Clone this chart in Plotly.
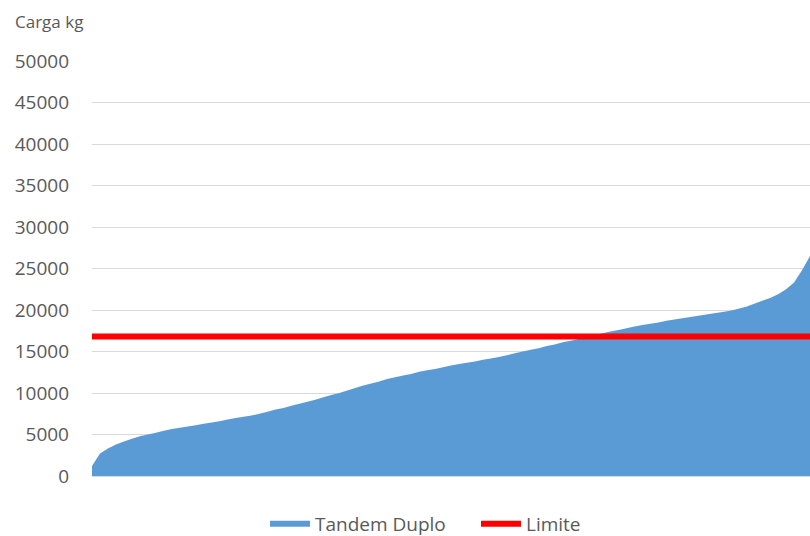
import plotly.graph_objects as go

# Sorted axle loads (kg) - Tandem Duplo
rank = list(range(91))
tandem_duplo = [
    1200, 2700, 3300, 3800, 4150, 4500, 4800, 5000, 5200, 5450,
    5650, 5800, 5950, 6100, 6300, 6450, 6600, 6800, 7000, 7150,
    7300, 7500, 7750, 8000, 8200, 8450, 8700, 8950, 9200, 9500,
    9750, 10000, 10300, 10600, 10900, 11150, 11400, 11700, 11900, 12100,
    12300, 12550, 12750, 12900, 13100, 13300, 13500, 13650, 13800, 14000,
    14150, 14350, 14550, 14800, 15000, 15200, 15400, 15650, 15850, 16100,
    16300, 16500, 16800, 17000, 17200, 17400, 17600, 17800, 18000, 18200,
    18350, 18500, 18700, 18850, 19000, 19150, 19300, 19450, 19600, 19750,
    19900, 20150, 20400, 20750, 21100, 21450, 21900, 22500, 23300, 24800,
    26500,
]
limite_value = 16800
limite = [limite_value] * len(rank)
y_ticks = [0, 5000, 10000, 15000, 20000, 25000, 30000, 35000, 40000, 45000, 50000]

fig = go.Figure()
fig.add_trace(go.Scatter(
    x=rank, y=tandem_duplo, name="Tandem Duplo", mode="none",
    fill="tozeroy", fillcolor="#5B9BD5",
))
fig.add_trace(go.Scatter(
    x=rank, y=limite, name="Limite", mode="lines",
    line=dict(color="#FF0000", width=6),
))

W, H = 810, 536
L, T, B = 92, 61, 60
PW, PH = W - L, H - T - B

font = "Open Sans, Lato, sans-serif"
fig.update_layout(
    width=W, height=H,
    paper_bgcolor="white", plot_bgcolor="white",
    margin=dict(l=L, r=0, t=T, b=B, autoexpand=False),
    font=dict(family=font, color="#595959", size=19),
    xaxis=dict(range=[0, 90], showgrid=False, zeroline=False,
               showticklabels=False, showline=False, ticks=""),
    yaxis=dict(range=[0, 50000], tickvals=y_ticks,
               ticktext=[str(v) for v in y_ticks],
               showgrid=True, gridcolor="#D9D9D9", gridwidth=1,
               zeroline=True, zerolinecolor="#D9D9D9", zerolinewidth=1,
               showline=False, ticks="", ticklabelstandoff=22,
               tickfont=dict(size=19, color="#595959")),
    legend=dict(orientation="h", xref="container", yref="container",
                x=265 / W, xanchor="left", y=12 / H, yanchor="middle",
                font=dict(size=19, color="#595959"), itemwidth=40,
                entrywidth=156, bgcolor="rgba(0,0,0,0)"),
    annotations=[dict(text="Carga kg", xref="paper", yref="paper",
                      x=(13 - L) / PW, y=1 + (T - 22) / PH,
                      xanchor="left", yanchor="middle",
                      showarrow=False, font=dict(size=17, color="#595959"))],
    showlegend=True,
    hovermode=False,
)

fig.write_html("out.html",
               config={"displayModeBar": False, "staticPlot": True},
               post_script="document.body.style.margin='0';document.body.style.overflow='hidden';")
